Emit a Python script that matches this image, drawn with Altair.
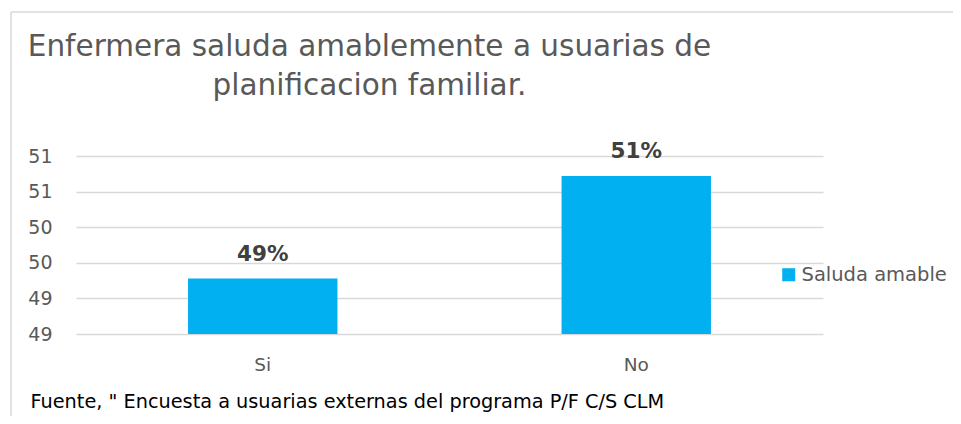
import altair as alt
import pandas as pd

categorias = ["Si", "No"]
valores = [49.28, 50.72]
etiquetas = ["49%", "51%"]
serie = ["Saluda amable", "Saluda amable"]
ticks_y = [48.5, 49, 49.5, 50, 50.5, 51]
base_y = 48.5

titulo = ["Enfermera saluda amablemente a usuarias de", "planificacion familiar."]
fuente = "Fuente, \" Encuesta a usuarias externas del programa P/F C/S CLM"

df = pd.DataFrame({"cat": categorias, "val": valores, "lab": etiquetas, "serie": serie})

FONT = "DejaVu Sans"
GRAY = "#595959"

x = alt.X("cat:N", sort=categorias,
          scale=alt.Scale(paddingInner=0.6, paddingOuter=0.3),
          axis=alt.Axis(title=fuente, labelAngle=0, labelFontSize=18.5, labelColor=GRAY,
                        labelFont=FONT, labelBaseline="alphabetic", labelPadding=36,
                        ticks=False, domain=False,
                        titleFont=FONT, titleFontSize=19.3, titleColor="#000000",
                        titleFontWeight="normal", titleAnchor="start", titleAlign="left",
                        titleBaseline="alphabetic", titleX=-46, titleY=73))
y = alt.Y("val:Q", scale=alt.Scale(domain=[48.5, 51], nice=False, zero=False),
          axis=alt.Axis(title=None, values=ticks_y, format=".0f", labelFontSize=19,
                        labelColor=GRAY, labelFont=FONT, labelPadding=24,
                        ticks=False, domain=False, gridColor="#d9d9d9", gridWidth=1.5))

base = alt.Chart(df)

bars = base.mark_bar().encode(
    x=x, y=y, y2=alt.datum(base_y),
    color=alt.Color("serie:N", scale=alt.Scale(range=["#00B0F0"]),
                    legend=alt.Legend(title=None, orient="none", legendX=703, legendY=109,
                                      symbolType="square", symbolSize=170,
                                      symbolStrokeWidth=0, labelFontSize=19.5,
                                      labelColor=GRAY, labelFont=FONT, labelOffset=3)))

labels = base.mark_text(fontSize=21.5, fontWeight="bold", color="#404040", font=FONT,
                        baseline="alphabetic", dy=-17.5).encode(
    x=x, y=y, text="lab:N")

frame = alt.Chart(alt.Data(values=[{"a": 1}]))
vline = frame.mark_rule(color="#d9d9d9", strokeWidth=1.5).encode(
    x=alt.value(-65), y=alt.value(-144), y2=alt.value(400))
hline = frame.mark_rule(color="#d9d9d9", strokeWidth=1.5).encode(
    y=alt.value(-144), x=alt.value(-65), x2=alt.value(1000))

chart = alt.layer(bars, labels, vline, hline).properties(
    width=747, height=178,
    autosize=alt.AutoSizeParams(type="none"),
    padding={"left": 68, "top": 148, "right": 130, "bottom": 82},
    title=alt.TitleParams(titulo, anchor="middle", dx=-80, fontSize=29.5, color=GRAY,
                          font=FONT, fontWeight="normal", lineHeight=39, offset=0,
                          baseline="alphabetic", dy=113.4),
).configure_view(stroke=None)

chart.save("out.html", embed_options={"renderer": "svg", "actions": False})
